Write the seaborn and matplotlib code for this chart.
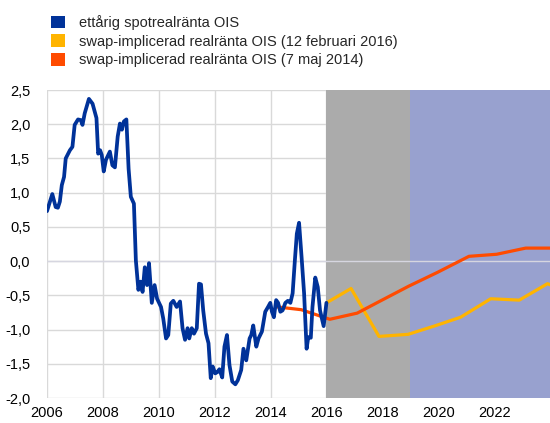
import matplotlib
matplotlib.use("Agg")
import matplotlib.pyplot as plt
from matplotlib.patches import Patch
import seaborn as sns
import pandas as pd

# one-year spot real rate OIS (decimal years)
spot_year = [2006.0, 2006.19, 2006.31, 2006.39, 2006.46, 2006.53, 2006.61, 2006.67, 2006.82,
             2006.91, 2006.99, 2007.11, 2007.21, 2007.27, 2007.35, 2007.5, 2007.63, 2007.77,
             2007.83, 2007.9, 2007.96, 2008.03, 2008.11, 2008.25, 2008.34, 2008.43, 2008.53,
             2008.61, 2008.68, 2008.75, 2008.84, 2008.92, 2009.0, 2009.11, 2009.18, 2009.27,
             2009.35, 2009.42, 2009.5, 2009.58, 2009.65, 2009.75, 2009.85, 2009.94, 2010.08,
             2010.16, 2010.26, 2010.34, 2010.43, 2010.52, 2010.64, 2010.76, 2010.85, 2010.94,
             2011.03, 2011.09, 2011.18, 2011.26, 2011.36, 2011.44, 2011.51, 2011.59, 2011.69,
             2011.78, 2011.86, 2011.93, 2012.02, 2012.1, 2012.17, 2012.27, 2012.35, 2012.44,
             2012.53, 2012.63, 2012.74, 2012.83, 2012.95, 2013.03, 2013.13, 2013.25, 2013.31,
             2013.38, 2013.49, 2013.57, 2013.69, 2013.81, 2013.91, 2013.99, 2014.05, 2014.12,
             2014.2, 2014.27, 2014.35, 2014.43, 2014.53, 2014.62, 2014.71, 2014.79, 2014.87,
             2014.94, 2015.02, 2015.11, 2015.2, 2015.29, 2015.35, 2015.44, 2015.5, 2015.6,
             2015.69, 2015.77, 2015.9, 2016.0]
spot_value = [0.73, 0.98, 0.79, 0.78, 0.87, 1.11, 1.23, 1.50, 1.62, 1.67, 1.99, 2.07, 2.06,
              1.99, 2.16, 2.37, 2.30, 2.09, 1.57, 1.62, 1.55, 1.31, 1.48, 1.60, 1.40, 1.37,
              1.82, 2.01, 1.92, 2.04, 2.07, 1.35, 0.94, 0.84, 0.01, -0.42, -0.30, -0.45,
              -0.09, -0.35, -0.03, -0.61, -0.35, -0.55, -0.67, -0.84, -1.13, -1.08, -0.62,
              -0.58, -0.67, -0.59, -0.98, -1.15, -0.98, -1.13, -0.98, -1.06, -0.98, -0.33,
              -0.34, -0.72, -1.06, -1.20, -1.71, -1.54, -1.64, -1.62, -1.58, -1.70, -1.25,
              -1.08, -1.52, -1.76, -1.80, -1.74, -1.59, -1.28, -1.45, -1.13, -1.08, -0.94,
              -1.25, -1.13, -1.03, -0.74, -0.67, -0.61, -0.74, -0.82, -0.57, -0.61, -0.74,
              -0.72, -0.61, -0.58, -0.61, -0.47, 0.01, 0.40, 0.56, 0.06, -0.47, -1.28,
              -1.11, -1.12, -0.67, -0.24, -0.38, -0.72, -0.95, -0.61]

# swap-implied real rate OIS (12 Feb 2016)
feb16_year = [2016.0, 2016.88, 2017.88, 2018.92, 2019.85, 2020.8, 2021.88, 2022.9, 2023.91, 2024.1]
feb16_value = [-0.61, -0.40, -1.10, -1.07, -0.95, -0.82, -0.55, -0.57, -0.33, -0.36]

# swap-implied real rate OIS (7 May 2014)
may14_year = [2014.25, 2015.1, 2016.12, 2017.1, 2017.94, 2018.95, 2019.97, 2021.1, 2022.09, 2023.13, 2024.1]
may14_value = [-0.67, -0.71, -0.85, -0.76, -0.58, -0.365, -0.165, 0.07, 0.10, 0.19, 0.19]

labels = ["ettårig spotrealränta OIS",
          "swap-implicerad realränta OIS (12 februari 2016)",
          "swap-implicerad realränta OIS (7 maj 2014)"]
colors = ["#003299", "#FFB400", "#FF4B00"]

sns.set_style("white")
plt.rcParams["font.family"] = ["Liberation Sans", "DejaVu Sans"]

fig = plt.figure(figsize=(5.5, 4.23), dpi=100)
ax = fig.add_axes([47 / 550, 1 - 398 / 423, 1 - 47 / 550, (398 - 90) / 423])

# forecast bands
ax.axvspan(2016, 2019, color="#ABABAB", lw=0, zorder=1)
ax.axvspan(2019, 2024.5, color="#98A1CF", lw=0, zorder=1)
ax.axhline(0, color="#D6D6E0", lw=1, zorder=2)

sns.lineplot(x=spot_year, y=spot_value, color=colors[0], lw=2.7, ax=ax, zorder=4, sort=False)
sns.lineplot(x=feb16_year, y=feb16_value, color=colors[1], lw=2.3, ax=ax, zorder=3, sort=False)
sns.lineplot(x=may14_year, y=may14_value, color=colors[2], lw=2.3, ax=ax, zorder=3, sort=False)

ax.set_xlim(2006, 2024)
ax.set_ylim(-2.0, 2.5)
ax.set_xticks(range(2006, 2024, 2))
yt = [-2.0, -1.5, -1.0, -0.5, 0.0, 0.5, 1.0, 1.5, 2.0, 2.5]
ax.set_yticks(yt)
ax.set_yticklabels([f"{v:.1f}".replace(".", ",") for v in yt])
ax.tick_params(length=0, labelsize=10.5, colors="#000000")
ax.tick_params(axis="x", pad=6)
ax.tick_params(axis="y", pad=12)
ax.grid(True, color="#D9D9D9", lw=1)
ax.set_axisbelow(True)
for s in ax.spines.values():
    s.set_visible(False)
ax.set_xlabel("")
ax.set_ylabel("")

handles = [Patch(facecolor=c, edgecolor="none") for c in colors]
fig.legend(handles, labels, loc="upper left", bbox_to_anchor=(51 / 550, 1 - 15 / 423),
           frameon=False, fontsize=10.5, handlelength=0.95, handleheight=0.95,
           handletextpad=1.0, labelspacing=0.3, borderpad=0, borderaxespad=0)

fig.savefig("out.png", dpi=100)
